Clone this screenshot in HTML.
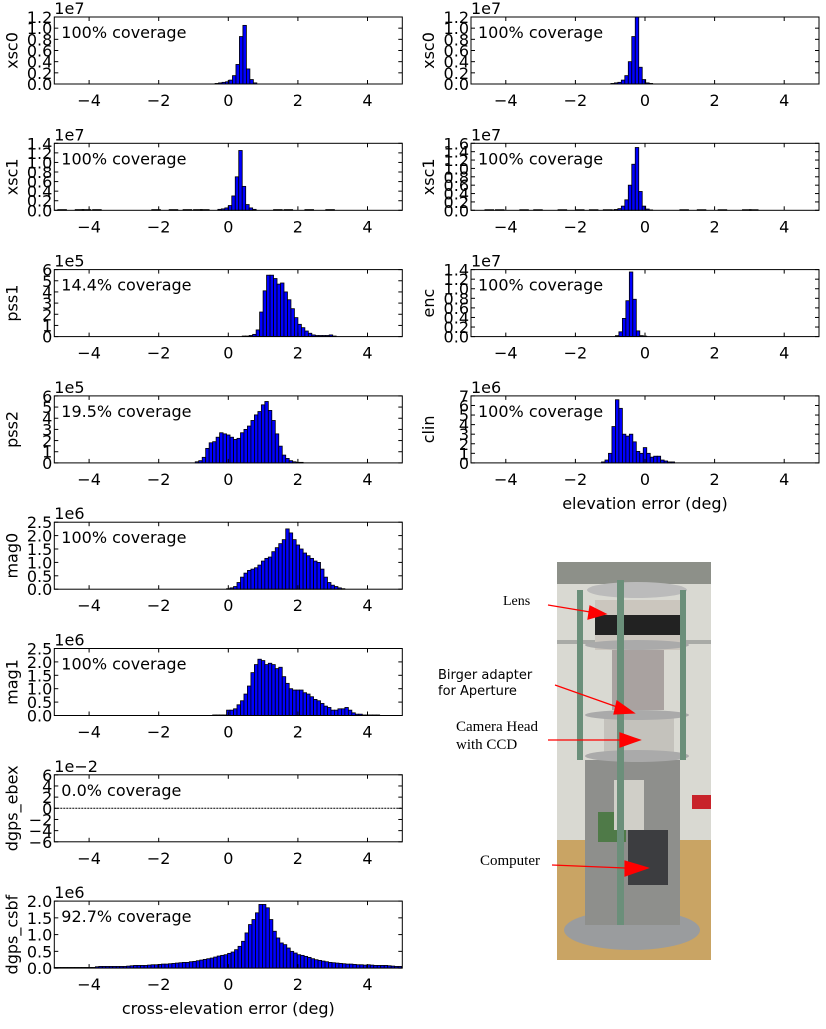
<!DOCTYPE html>
<html><head><meta charset="utf-8"><style>
body{margin:0;background:#fff;}
svg text{font-family:"DejaVu Sans","Liberation Sans",sans-serif;}
</style></head><body>
<svg id="chart" width="826" height="1024" viewBox="0 0 826 1024" xmlns="http://www.w3.org/2000/svg">
<g id="photo">
  <rect x="557" y="562" width="154" height="398" fill="#d9d9d2"/>
  <rect x="557" y="562" width="154" height="22" fill="#8d9089"/>
  <rect x="557" y="640" width="154" height="4" fill="#a8aaa6"/>
  <rect x="557" y="840" width="154" height="120" fill="#c9a464"/>
  <rect x="692" y="795" width="19" height="14" fill="#c8232a"/>
  <ellipse cx="632" cy="930" rx="68" ry="20" fill="#9a9c9e"/>
  <rect x="585" y="760" width="95" height="165" fill="#8e8f8c"/>
  <rect x="598" y="812" width="28" height="30" fill="#4f7a48"/>
  <rect x="614" y="780" width="30" height="50" fill="#d0cfc8"/>
  <rect x="628" y="830" width="40" height="55" fill="#3c3d40"/>
  <rect x="612" y="650" width="52" height="60" fill="#a9a2a0"/>
  <rect x="604" y="715" width="70" height="45" fill="#c4c2bc"/>
  <rect x="595" y="600" width="85" height="50" fill="#cbc6be"/>
  <rect x="595" y="615" width="85" height="20" fill="#222"/>
  <ellipse cx="637" cy="590" rx="50" ry="8" fill="#bbb"/>
  <ellipse cx="637" cy="645" rx="52" ry="5" fill="#aaa"/>
  <ellipse cx="637" cy="715" rx="52" ry="5" fill="#aaa"/>
  <ellipse cx="637" cy="756" rx="52" ry="6" fill="#aaa"/>
  <rect x="577" y="590" width="6" height="170" fill="#6b8f7a"/>
  <rect x="617" y="580" width="7" height="345" fill="#6b8f7a"/>
  <rect x="680" y="590" width="6" height="170" fill="#6b8f7a"/>
</g>
<g id="photo-labels" fill="#000">
  <text x="503" y="605" font-size="14" style="font-family:'Liberation Serif',serif">Lens</text>
  <text x="438" y="679" font-size="13">Birger adapter</text>
  <text x="438" y="695" font-size="13">for Aperture</text>
  <text x="456" y="731" font-size="15" style="font-family:'Liberation Serif',serif">Camera Head</text>
  <text x="456" y="749" font-size="15" style="font-family:'Liberation Serif',serif">with CCD</text>
  <text x="480" y="865" font-size="15" style="font-family:'Liberation Serif',serif">Computer</text>
  <g stroke="red" stroke-width="1.2" fill="red">
    <line x1="548" y1="605" x2="590" y2="612"/><polygon points="606,614 590,606 588,619"/>
    <line x1="555" y1="685" x2="620" y2="708"/><polygon points="634,713 617,701 614,714"/>
    <line x1="548" y1="740" x2="620" y2="740"/><polygon points="640,740 620,733 620,747"/>
    <line x1="552" y1="865" x2="625" y2="868"/><polygon points="648,868 625,861 625,876"/>
  </g>
</g>
</svg>
<script>
// ---- data (bin left edge, bin width, counts in units of multiplier) ----
const xsc0Left = [0.01,0.02,0.03,0.04,0.07,0.15,0.35,0.85,1.05,0.27,0.08,0.02];
const xsc1Left = [0.02,0.03,0.05,0.1,0.3,0.7,1.25,0.5,0.12,0.05,0.02];
const pss1Vals = [0.05,0.05,0.1,0.2,0.6,2.2,4.1,5.5,5.5,5.2,4.7,4.8,4.0,3.3,2.5,1.7,1.1,0.8,0.5,0.3,0.15,0.1,0.1,0.1,0.1,0.15,0.05];
const pss2Vals = [0.1,0.2,0.5,1.3,1.8,1.9,2.3,2.7,2.6,2.5,2.3,2.1,2.2,2.7,3.0,3.3,3.8,4.3,4.6,5.2,5.5,4.7,3.8,2.6,1.5,0.7,0.4,0.2,0.1,0.05,0.05];
const mag0Vals = [0.02,0.05,0.1,0.25,0.45,0.6,0.7,0.75,0.8,0.9,1.05,1.15,1.2,1.4,1.55,1.7,1.85,2.25,2.1,1.85,1.65,1.5,1.35,1.25,1.15,1.05,1.0,0.75,0.45,0.25,0.15,0.1,0.05,0.02];
const mag1Vals = [0.02,0.02,0.02,0.02,0.2,0.2,0.25,0.4,0.55,0.8,1.1,1.6,1.9,2.1,2.05,1.9,1.95,1.9,1.75,1.8,1.45,1.2,1.0,0.95,0.95,0.95,0.85,0.8,0.7,0.6,0.55,0.45,0.35,0.3,0.2,0.2,0.25,0.25,0.3,0.2,0.1,0.05,0.05,0.02,0.02,0.02,0.02,0.02];
const csbfVals = [0.02,0.02,0.02,0.02,0.02,0.02,0.02,0.02,0.02,0.02,0.02,0.02,0.02,0.04,0.05,0.05,0.05,0.05,0.05,0.05,0.05,0.05,0.06,0.07,0.08,0.08,0.08,0.08,0.09,0.1,0.1,0.11,0.12,0.12,0.13,0.14,0.15,0.16,0.17,0.17,0.19,0.2,0.22,0.24,0.26,0.28,0.3,0.33,0.36,0.38,0.4,0.44,0.48,0.55,0.65,0.8,1.05,1.3,1.45,1.65,1.9,1.9,1.8,1.45,1.1,0.9,0.75,0.7,0.6,0.5,0.45,0.4,0.38,0.35,0.32,0.28,0.25,0.23,0.21,0.19,0.17,0.16,0.15,0.14,0.13,0.12,0.12,0.11,0.1,0.1,0.09,0.1,0.09,0.08,0.08,0.08,0.08,0.07,0.06,0.05,0.05];
const xsc0Right = [0.01,0.02,0.03,0.07,0.15,0.4,0.85,1.2,0.3,0.08,0.02,0.01];
const xsc1Right = [0.01,0.02,0.04,0.1,0.25,0.6,1.1,1.5,0.45,0.1,0.03,0.01];
const encVals = [0.02,0.1,0.38,0.75,1.35,0.78,0.12,0.02,0.01];
const clinVals = [0.1,0.3,1.0,3.8,6.6,5.7,3.0,2.8,3.0,2.2,1.2,1.0,1.6,1.0,0.6,0.7,0.7,0.3,0.2,0.1,0.1];
const xTickLabels = ["\u22124","\u22122","0","2","4"];
const xTickValues = [-4,-2,0,2,4];

const panels = [
 {col:0,row:0,name:"xsc0",mult:"1e7",ymin:0,ymax:1.2,step:0.2,dec:1,cov:"100% coverage",start:-0.38,w:0.1,vals:xsc0Left},
 {col:0,row:1,name:"xsc1",mult:"1e7",ymin:0,ymax:1.4,step:0.2,dec:1,cov:"100% coverage",start:-0.3,w:0.1,vals:xsc1Left,scatter:[-4.9,-4.4,-4.2,-3.9,-2.2,-1.7,-1.3,-1.0,-0.8,1.3,1.6,2.2,2.8]},
 {col:0,row:2,name:"pss1",mult:"1e5",ymin:0,ymax:6,step:1,dec:0,cov:"14.4% coverage",start:0.4,w:0.1,vals:pss1Vals},
 {col:0,row:3,name:"pss2",mult:"1e5",ymin:0,ymax:6,step:1,dec:0,cov:"19.5% coverage",start:-0.95,w:0.1,vals:pss2Vals},
 {col:0,row:4,name:"mag0",mult:"1e6",ymin:0,ymax:2.5,step:0.5,dec:1,cov:"100% coverage",start:-0.05,w:0.1,vals:mag0Vals},
 {col:0,row:5,name:"mag1",mult:"1e6",ymin:0,ymax:2.5,step:0.5,dec:1,cov:"100% coverage",start:-0.45,w:0.1,vals:mag1Vals},
 {col:0,row:6,name:"dgps_ebex",mult:"1e\u22122",ymin:-6,ymax:6,step:2,dec:0,cov:"0.0% coverage",start:0,w:0.1,vals:[],zeroLine:true},
 {col:0,row:7,name:"dgps_csbf",mult:"1e6",ymin:0,ymax:2.0,step:0.5,dec:1,cov:"92.7% coverage",start:-5.12,w:0.1,vals:csbfVals,xlabel:"cross-elevation error (deg)"},
 {col:1,row:0,name:"xsc0",mult:"1e7",ymin:0,ymax:1.2,step:0.2,dec:1,cov:"100% coverage",start:-0.98,w:0.1,vals:xsc0Right},
 {col:1,row:1,name:"xsc1",mult:"1e7",ymin:0,ymax:1.6,step:0.2,dec:1,cov:"100% coverage",start:-0.98,w:0.1,vals:xsc1Right,scatter:[-4.6,-4.3,-3.6,-3.2,-2.5,-2.0,-1.6,-1.2,1.0,1.5,2.1,2.8,3.0]},
 {col:1,row:2,name:"enc",mult:"1e7",ymin:0,ymax:1.4,step:0.2,dec:1,cov:"100% coverage",start:-0.85,w:0.1,vals:encVals},
 {col:1,row:3,name:"clin",mult:"1e6",ymin:0,ymax:7,step:1,dec:0,cov:"100% coverage",start:-1.25,w:0.1,vals:clinVals,xlabel:"elevation error (deg)"}
];

const NS="http://www.w3.org/2000/svg";
const svg=document.getElementById('chart');
function mk(tag,attrs,parent){const e=document.createElementNS(NS,tag);for(const k in attrs)e.setAttribute(k,attrs[k]);(parent||svg).appendChild(e);return e;}
const AW=348, AH=67;
panels.forEach(p=>{
  const L = p.col===0?54.3:471, T = 17+126.3*p.row;
  const xs = v=>L+(v+5)/10*AW;
  const ys = v=>T+AH-(v-p.ymin)/(p.ymax-p.ymin)*AH;
  const g=mk('g',{});
  
  
  p.vals.forEach((v,i)=>{
    const x0=p.start+i*p.w, x1=x0+p.w;
    if(x1<-5||x0>5) return;
    const r=mk('rect',{x:xs(Math.max(x0,-5)),y:ys(v),width:xs(Math.min(x1,5))-xs(Math.max(x0,-5)),height:ys(p.ymin)-ys(v),fill:"#0000ff",stroke:"#000","stroke-width":0.8},g);
    
    
  });
  (p.scatter||[]).forEach(x0=>{
    const r=mk('rect',{x:xs(x0),y:ys(0.015),width:xs(x0+0.25)-xs(x0),height:ys(0)-ys(0.015),fill:"#0000ff",stroke:"#000","stroke-width":0.8},g);
    
    
  });
  if(p.zeroLine){const zl=mk('line',{x1:L,x2:L+AW,y1:ys(0),y2:ys(0),stroke:"#000","stroke-width":1,"stroke-dasharray":"2,1"},g);
    
    }
  const fr=mk('rect',{x:L,y:T,width:AW,height:AH,fill:"none",stroke:"#000","stroke-width":1},g);
  
  
  xTickValues.forEach((v,i)=>{
    const x=xs(v);
    mk('line',{x1:x,x2:x,y1:T+AH,y2:T+AH-4,stroke:"#000"},g);
    mk('line',{x1:x,x2:x,y1:T,y2:T+4,stroke:"#000"},g);
    const t=mk('text',{x:x,y:T+AH+22,"text-anchor":"middle","font-size":16},g);
    t.textContent=xTickLabels[i];
    
    
  });
  for(let v=p.ymin; v<=p.ymax+1e-9; v+=p.step){
    const y=ys(v);
    mk('line',{x1:L,x2:L+4,y1:y,y2:y,stroke:"#000"},g);
    mk('line',{x1:L+AW,x2:L+AW-4,y1:y,y2:y,stroke:"#000"},g);
    const t=mk('text',{x:L-2,y:y+6,"text-anchor":"end","font-size":16},g);
    t.textContent=(Math.abs(v)<1e-9?0:v).toFixed(p.dec).replace('-','\u2212');
    
    
  }
  const m=mk('text',{x:L,y:T-3,"font-size":16},g); m.textContent=p.mult;
  
  
  const c=mk('text',{x:L+7,y:T+21,"font-size":16},g); c.textContent=p.cov;
  
  
  const yl=mk('text',{x:0,y:0,"font-size":16,"text-anchor":"middle",transform:`translate(${L-37},${T+AH/2}) rotate(-90)`},g);
  yl.textContent=p.name;
  
  
  if(p.xlabel){const xl=mk('text',{x:L+AW/2,y:T+AH+46,"font-size":16,"text-anchor":"middle"},g);xl.textContent=p.xlabel;
    
    }
});
</script>
</body></html>
